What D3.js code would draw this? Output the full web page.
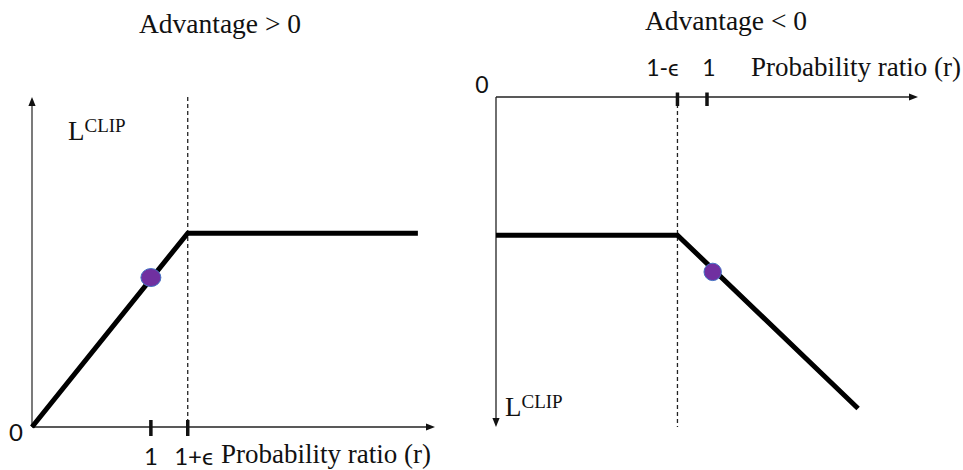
<!DOCTYPE html>
<html>
<head>
<meta charset="utf-8">
<script src="https://cdn.jsdelivr.net/npm/d3@7"></script>
<style>
  html, body { margin: 0; padding: 0; background: #fff; }
  svg { display: block; }
  .serif { font-family: "Liberation Serif", "Times New Roman", serif; fill: #111; }
  .sans { font-family: Lato, "Open Sans", "Liberation Sans", sans-serif; fill: #111; }
</style>
</head>
<body>
<svg id="chart" width="963" height="470"></svg>
<script>
// Clipped surrogate objective L^CLIP against the probability ratio r
const titles = ["Advantage > 0", "Advantage < 0"];
const axisLabel = "Probability ratio (r)";

// Advantage > 0: rises with r, flat once r passes 1+ε
const posEps = 0.31;
const posR = [0, 1 + posEps, 3.246];
const posL = [0, 1 + posEps, 1 + posEps];
const posDot = { r: 1.0, L: 1.01 };
const posTicks = [1, 1 + posEps];
const posTickLabels = ["1", "1+ϵ"];

// Advantage < 0: flat until 1-ε, then falls with r
const negEps = 0.14;
const negR = [0, 1 - negEps, 1.716];
const negL = [-0.67, -0.67, -1.51];
const negDot = { r: 1.027, L: -0.848 };
const negTicks = [1 - negEps, 1];
const negTickLabels = ["1-ϵ", "1"];

const svg = d3.select("#chart");

function arrow(g, x, y, dir) {
  // small filled arrowhead with its tip at (x, y)
  const len = 9, half = 3.6;
  let pts;
  if (dir === "right") pts = [[x, y], [x - len, y - half], [x - len, y + half]];
  if (dir === "up") pts = [[x, y], [x - half, y + len], [x + half, y + len]];
  if (dir === "down") pts = [[x, y], [x - half, y - len], [x + half, y - len]];
  g.append("path").attr("d", "M" + pts.map(p => p.join(",")).join("L") + "Z").attr("fill", "#111");
}

function lclip(g, x, y) {
  const t = g.append("text").attr("class", "serif").attr("x", x).attr("y", y).attr("font-size", 27);
  t.append("tspan").text("L");
  t.append("tspan").attr("font-size", 19).attr("dy", -8).text("CLIP");
}

// ---------- left panel ----------
{
  const x = d3.scaleLinear().domain([0, 3.39]).range([32, 435]);
  const y = d3.scaleLinear().domain([0, 2.23]).range([427, 97]);
  const g = svg.append("g");

  g.append("text").attr("class", "serif").attr("x", 220).attr("y", 33)
    .attr("text-anchor", "middle").attr("font-size", 27.5).text(titles[0]);

  // axes
  g.append("line").attr("x1", x(0)).attr("x2", x(0)).attr("y1", y(0)).attr("y2", y(2.23) + 6)
    .attr("stroke", "#333").attr("stroke-width", 1.3);
  arrow(g, x(0), y(2.23), "up");
  g.append("line").attr("x1", x(0)).attr("x2", x(3.39) - 6).attr("y1", y(0)).attr("y2", y(0))
    .attr("stroke", "#222").attr("stroke-width", 1.3);
  arrow(g, x(3.39), y(0), "right");

  // clip boundary
  g.append("line").attr("x1", x(1 + posEps)).attr("x2", x(1 + posEps))
    .attr("y1", y(2.23)).attr("y2", y(0))
    .attr("stroke", "#222").attr("stroke-width", 1.3).attr("stroke-dasharray", "4,3");

  // ticks
  posTicks.forEach((t, i) => {
    g.append("line").attr("x1", x(t)).attr("x2", x(t)).attr("y1", y(0) - 7).attr("y2", y(0) + 9)
      .attr("stroke", "#111").attr("stroke-width", 3.5);
    g.append("text").attr("class", "sans").attr("font-size", 24)
      .attr("x", x(t) + (i === 0 ? 0 : 6)).attr("y", 465).attr("text-anchor", "middle")
      .text(posTickLabels[i]);
  });
  g.append("text").attr("class", "sans").attr("font-size", 24).attr("x", 16).attr("y", 441)
    .attr("text-anchor", "middle").text("0");
  g.append("text").attr("class", "serif").attr("font-size", 27).attr("x", 221).attr("y", 463).text(axisLabel);

  lclip(g, 68, 140);

  // objective
  const line = d3.line().x((d, i) => x(posR[i])).y((d, i) => y(posL[i]));
  g.append("path").datum(posR).attr("d", line).attr("fill", "none")
    .attr("stroke", "#000").attr("stroke-width", 5).attr("stroke-linejoin", "miter");
  g.append("ellipse").attr("cx", x(posDot.r)).attr("cy", y(posDot.L)).attr("rx", 10).attr("ry", 9)
    .attr("fill", "#7030A0").attr("stroke", "#4472C4").attr("stroke-width", 1);
}

// ---------- right panel ----------
{
  const x = d3.scaleLinear().domain([0, 2]).range([496, 918]);
  const y = d3.scaleLinear().domain([0, -1.6]).range([97, 427]);
  const g = svg.append("g");

  g.append("text").attr("class", "serif").attr("x", 726).attr("y", 30)
    .attr("text-anchor", "middle").attr("font-size", 27.5).text(titles[1]);

  // axes
  g.append("line").attr("x1", x(0)).attr("x2", x(2) - 6).attr("y1", y(0)).attr("y2", y(0))
    .attr("stroke", "#222").attr("stroke-width", 1.3);
  arrow(g, x(2), y(0), "right");
  g.append("line").attr("x1", x(0)).attr("x2", x(0)).attr("y1", y(0)).attr("y2", y(-1.6) - 6)
    .attr("stroke", "#222").attr("stroke-width", 1.3);
  arrow(g, x(0), y(-1.6), "down");

  // clip boundary
  g.append("line").attr("x1", x(1 - negEps)).attr("x2", x(1 - negEps))
    .attr("y1", y(0)).attr("y2", y(-1.6))
    .attr("stroke", "#222").attr("stroke-width", 1.3).attr("stroke-dasharray", "4,3");

  // ticks
  negTicks.forEach((t, i) => {
    g.append("line").attr("x1", x(t)).attr("x2", x(t)).attr("y1", y(0) - 4.5).attr("y2", y(0) + 9)
      .attr("stroke", "#111").attr("stroke-width", 3.5);
    g.append("text").attr("class", "sans").attr("font-size", 23)
      .attr("x", x(t) + (i === 0 ? -15 : 2)).attr("y", 76).attr("text-anchor", "middle")
      .text(negTickLabels[i]);
  });
  g.append("text").attr("class", "sans").attr("font-size", 23).attr("x", 482).attr("y", 93)
    .attr("text-anchor", "middle").text("0");
  g.append("text").attr("class", "serif").attr("font-size", 27).attr("x", 961).attr("y", 76)
    .attr("text-anchor", "end").text(axisLabel);

  lclip(g, 505, 416);

  // objective
  const line = d3.line().x((d, i) => x(negR[i])).y((d, i) => y(negL[i]));
  g.append("path").datum(negR).attr("d", line).attr("fill", "none")
    .attr("stroke", "#000").attr("stroke-width", 5).attr("stroke-linejoin", "miter");
  g.append("circle").attr("cx", x(negDot.r)).attr("cy", y(negDot.L)).attr("r", 8.7)
    .attr("fill", "#7030A0").attr("stroke", "#4472C4").attr("stroke-width", 1);
}
</script>
</body>
</html>
